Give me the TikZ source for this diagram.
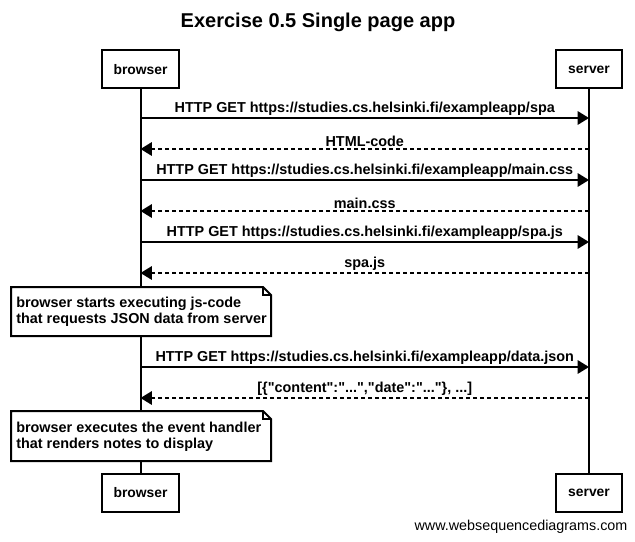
\documentclass[tikz,border=0pt]{standalone}
\usepackage{fontspec}
\setmainfont{Liberation Sans}
\usetikzlibrary{arrows.meta}

\newcommand{\qt}{\textquotedbl}

\tikzset{
  actor/.style={draw,line width=1.5pt,fill=white,minimum height=28.5pt,inner sep=0pt,font=\bfseries\fontsize{10.4}{12}\selectfont},
  life/.style={line width=1.5pt},
  msg/.style={line width=1.5pt,-{Triangle[length=8.5pt,width=10pt]}},
  reply/.style={msg,dash pattern=on 3pt off 2.25pt},
  lbl/.style={above=0.25pt,inner sep=1pt,font=\bfseries\fontsize{10.8}{12}\selectfont},
  note/.style={draw,line width=1.5pt,fill=white},
  notetext/.style={anchor=west,align=left,inner sep=0pt,font=\bfseries\fontsize{10.8}{12.2}\selectfont},
}

\begin{document}
\begin{tikzpicture}[x=0.75pt,y=0.75pt,yscale=-1]
\useasboundingbox (0,0) rectangle (635,542);

% Title
\node (title) at (318,22) {\bfseries\fontsize{15}{17}\selectfont Exercise 0.5 Single page app};

% Actors
\node[actor,minimum width=57.75pt] (bt) at (140.5,69.5) {browser};
\node[actor,minimum width=49.5pt] (st) at (589,69.5) {server};
\node[actor,minimum width=57.75pt] (bb) at (140.5,492.5) {browser};
\node[actor,minimum width=49.5pt] (sb) at (589,492.5) {server};

% Lifelines
\draw[life] (bt.south) -- (bb.north);
\draw[life] (st.south) -- (sb.north);

% Message points
\foreach \n/\y in {1/118,2/149,3/180,4/211,5/242,6/273,7/367,8/398}{
  \coordinate (b\n) at (140.5,\y);
  \coordinate (s\n) at (589,\y);
}

% Messages
\draw[msg] (b1) -- node[lbl] {HTTP GET https://studies.cs.helsinki.fi/exampleapp/spa} (s1);
\draw[reply] (s2) -- node[lbl] {HTML-code} (b2);
\draw[msg] (b3) -- node[lbl] {HTTP GET https://studies.cs.helsinki.fi/exampleapp/main.css} (s3);
\draw[reply] (s4) -- node[lbl] {main.css} (b4);
\draw[msg] (b5) -- node[lbl] {HTTP GET https://studies.cs.helsinki.fi/exampleapp/spa.js} (s5);
\draw[reply] (s6) -- node[lbl] {spa.js} (b6);
\draw[msg] (b7) -- node[lbl] {HTTP GET https://studies.cs.helsinki.fi/exampleapp/data.json} (s7);
\draw[reply] (s8) -- node[lbl] {[\{\qt content\qt:\qt...\qt,\qt date\qt:\qt...\qt\}, ...]} (b8);

% Note 1
\draw[note] (11,287) -- (263,287) -- (271,295) -- (271,336) -- (11,336) -- cycle;
\draw[line width=1pt] (263,287) -- (263,295) -- (271,295);
\node[notetext] (n1) at (16,312) {browser starts executing js-code\\that requests JSON data from server};

% Note 2
\draw[note] (11,411) -- (263,411) -- (271,419) -- (271,461) -- (11,461) -- cycle;
\draw[line width=1pt] (263,411) -- (263,419) -- (271,419);
\node[notetext] (n2) at (16,437) {browser executes the event handler\\that renders notes to display};

% Footer
\node (foot) at (521,527) {\fontsize{10.75}{12}\selectfont www.websequencediagrams.com};

\end{tikzpicture}
\end{document}
